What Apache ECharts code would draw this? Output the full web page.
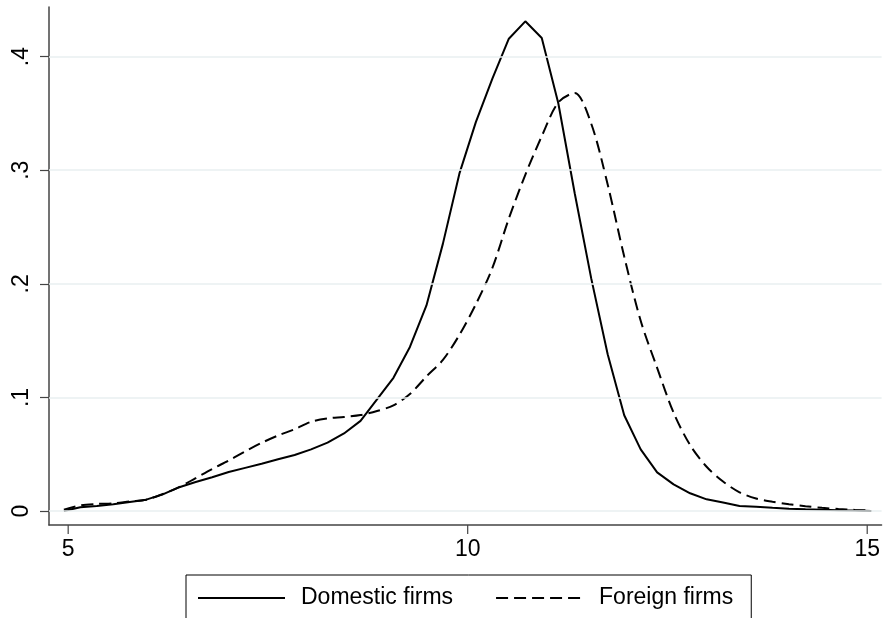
<!DOCTYPE html>
<html>
<head>
<meta charset="utf-8">
<script src="https://cdn.jsdelivr.net/npm/echarts@6/dist/echarts.min.js"></script>
<style>
  html, body { margin: 0; padding: 0; background: #fff; }
  #chart { width: 883px; height: 618px; }
</style>
</head>
<body>
<div id="chart"></div>
<script>
// evaluation points of the density estimate (x)
var xs = [4.946, 5.152, 5.359, 5.565, 5.771, 5.977, 6.184, 6.390, 6.596, 6.802,
  7.009, 7.215, 7.421, 7.627, 7.834, 8.040, 8.246, 8.452, 8.659, 8.865,
  9.071, 9.277, 9.484, 9.690, 9.896, 10.102, 10.309, 10.515, 10.721, 10.927,
  11.134, 11.340, 11.546, 11.752, 11.959, 12.165, 12.371, 12.577, 12.784, 12.990,
  13.196, 13.402, 13.609, 13.815, 14.021, 14.227, 14.434, 14.640, 14.846, 15.052]

var domestic = [0.000, 0.0033, 0.0045, 0.006, 0.008, 0.010, 0.0147, 0.021, 0.0255, 0.0297,
  0.0343, 0.038, 0.0417, 0.0455, 0.0493, 0.0543, 0.0602, 0.0683, 0.0794, 0.0982,
  0.1173, 0.1444, 0.181, 0.2354, 0.297, 0.3424, 0.3806, 0.4158, 0.4311, 0.4164,
  0.359, 0.2795, 0.2048, 0.138, 0.0843, 0.0543, 0.034, 0.0235, 0.0156, 0.0103,
  0.0075, 0.0044, 0.0037, 0.0028, 0.0021, 0.0015, 0.0011, 0.0006, 0.0004, 0.000]

var foreign = [0.0012, 0.005, 0.0062, 0.0068, 0.0085, 0.010, 0.015, 0.021, 0.029, 0.037,
  0.0445, 0.0525, 0.060, 0.0665, 0.072, 0.0785, 0.0815, 0.0828, 0.0845, 0.088,
  0.093, 0.103, 0.1185, 0.133, 0.155, 0.182, 0.214, 0.2575, 0.296, 0.330,
  0.3597, 0.368, 0.341, 0.2874, 0.224, 0.1675, 0.126, 0.0865, 0.058, 0.039,
  0.026, 0.0165, 0.011, 0.0082, 0.006, 0.0042, 0.0028, 0.0018, 0.001, 0.0005]

var xTicks = [5, 10, 15]
var yTicks = [0, 0.1, 0.2, 0.3, 0.4]
var seriesNames = ['Domestic firms', 'Foreign firms']

var xMin = 4.76, xMax = 15.18
var yMin = -0.0123, yMax = 0.4437

function pairs(ys) {
  return xs.map(function (x, i) { return [x, ys[i]] })
}

var font = '"Liberation Sans", Arial, Helvetica, sans-serif'
var axisColor = '#444'

var chart = echarts.init(document.getElementById('chart'), null, { renderer: 'canvas' })

chart.setOption({
  animation: false,
  backgroundColor: '#fff',
  grid: { left: 49, right: 0, top: 7, bottom: 93, containLabel: false },
  legend: {
    data: seriesNames,
    left: 186,
    top: 575,
    padding: [9, 18, 30, 11],
    borderColor: '#000',
    borderWidth: 1,
    borderRadius: 0,
    itemWidth: 87,
    itemHeight: 28,
    itemGap: 42,
    itemStyle: { opacity: 0 },
    textStyle: { fontFamily: font, fontSize: 23, color: '#000', padding: [0, 0, 0, 11], lineHeight: 28 }
  },
  xAxis: {
    type: 'value',
    min: xMin,
    max: xMax,
    axisLine: { onZero: false, lineStyle: { color: axisColor, width: 1.5 } },
    axisTick: { show: false },
    axisLabel: { customValues: xTicks, margin: 13, fontFamily: font, fontSize: 23, color: '#000' },
    splitLine: { show: false }
  },
  yAxis: {
    type: 'value',
    min: yMin,
    max: yMax,
    axisLine: { show: true, onZero: false, lineStyle: { color: axisColor, width: 1.5 } },
    axisTick: { show: true, customValues: yTicks, length: 9, lineStyle: { color: axisColor, width: 1.2 } },
    axisLabel: {
      customValues: yTicks,
      rotate: 90,
      margin: 16,
      fontFamily: font,
      fontSize: 23,
      color: '#000',
      formatter: function (v) { return v === 0 ? '0' : String(+v.toFixed(1)).replace('0.', '.') }
    },
    splitLine: { show: false }
  },
  series: [
    {
      name: 'grid',
      type: 'line',
      data: [],
      z: 0,
      silent: true,
      markLine: {
        silent: true,
        symbol: 'none',
        label: { show: false },
        lineStyle: { color: '#e8eff0', width: 1.5, type: 'solid' },
        data: yTicks.map(function (v) { return { yAxis: v } })
      }
    },
    {
      name: seriesNames[0],
      type: 'line',
      data: pairs(domestic),
      symbol: 'none',
      z: 3,
      lineStyle: { color: '#000', width: 2, type: 'solid' },
      itemStyle: { color: '#000' }
    },
    {
      name: seriesNames[1],
      type: 'line',
      data: pairs(foreign),
      symbol: 'none',
      smooth: 0.3,
      z: 3,
      lineStyle: { color: '#000', width: 2, type: [12, 6] },
      itemStyle: { color: '#000' }
    }
  ]
})

// x ticks placed through the axis scale (built-in ticks add a stray one at min)
var axisY = chart.convertToPixel({ yAxisIndex: 0 }, yMin)
chart.setOption({
  graphic: xTicks.map(function (v) {
    var px = chart.convertToPixel({ xAxisIndex: 0 }, v)
    return {
      type: 'line',
      silent: true,
      shape: { x1: px, y1: axisY, x2: px, y2: axisY + 9 },
      style: { stroke: axisColor, lineWidth: 1.2 }
    }
  })
})
</script>
</body>
</html>
